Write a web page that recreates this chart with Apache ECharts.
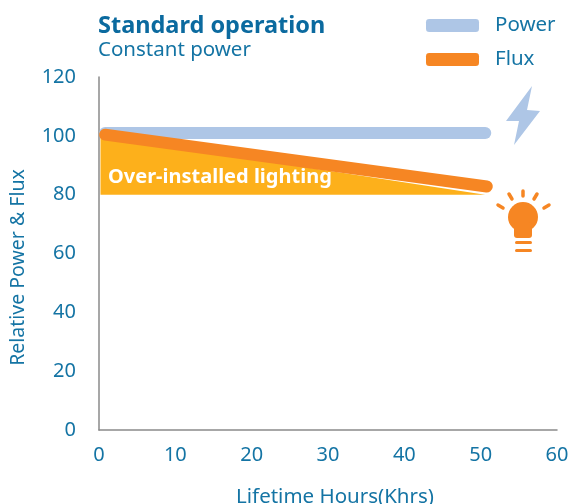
<!DOCTYPE html>
<html>
<head>
<meta charset="utf-8">
<style>html,body{margin:0;padding:0;background:#fff}#chart{width:571px;height:504px}</style>
<script src="https://cdn.jsdelivr.net/npm/echarts@6/dist/echarts.min.js"></script>
</head>
<body>
<div id="chart"></div>
<script>
var powerData = [[0.8, 101], [50.6, 101]];
var fluxData = [[0.8, 100.4], [50.8, 82.8]];
var overData = [[0.2, 100], [50.6, 80]];
var overBase = 80;
var blue = '#1474a4', orange = '#f68623', light = '#aec6e6';

var chart = echarts.init(document.getElementById('chart'));
var font = '"Noto Sans"';

function ray(x1, y1, x2, y2){
	return {type: 'line', shape: {x1: x1, y1: y1, x2: x2, y2: y2},
		style: {stroke: orange, lineWidth: 3.5, lineCap: 'round'}};
}

chart.setOption({
	animation: false,
	textStyle: {fontFamily: font},
	title: {
		text: 'Standard operation',
		subtext: 'Constant power',
		left: 98, top: 14, padding: 0, itemGap: 2,
		textStyle: {fontFamily: font, fontSize: 23.5, fontWeight: 'bold', color: '#0b6a9f'},
		subtextStyle: {fontFamily: font, fontSize: 20.5, color: blue}
	},
	legend: {
		orient: 'vertical',
		left: 426, top: 15, padding: 0,
		itemWidth: 53, itemHeight: 13, itemGap: 13,
		icon: 'roundRect',
		data: ['Power', 'Flux'],
		textStyle: {fontFamily: font, fontSize: 20.5, color: blue, padding: [0, 0, 8, 11]}
	},
	grid: {left: 99, right: 14, top: 77, bottom: 74, outerBoundsMode: 'none'},
	xAxis: {
		type: 'value', min: 0, max: 60, interval: 10,
		name: 'Lifetime Hours(Khrs)',
		nameLocation: 'middle', nameGap: 57,
		nameTextStyle: {fontSize: 20.5, color: blue, padding: [0, 0, 0, 14]},
		axisLine: {show: true, lineStyle: {color: '#8a8a8a', width: 1.5}},
		axisTick: {show: false},
		splitLine: {show: false},
		axisLabel: {fontSize: 20, color: blue, margin: 15}
	},
	yAxis: {
		type: 'value', min: 0, max: 120, interval: 20,
		name: 'Relative Power & Flux',
		nameLocation: 'middle', nameGap: 71,
		nameTextStyle: {fontSize: 19.5, color: blue, padding: [0, 28, 0, 0]},
		axisLine: {show: true, lineStyle: {color: '#8a8a8a', width: 1.5}},
		axisTick: {show: false},
		splitLine: {show: false},
		axisLabel: {fontSize: 20, color: blue, margin: 23, padding: [5, 0, 0, 0]}
	},
	series: [
		{name: 'Over-installed', type: 'line', data: overData, showSymbol: false,
			lineStyle: {width: 0}, areaStyle: {color: '#fdb01b', opacity: 1, origin: overBase}, silent: true},
		{name: 'Power', type: 'line', data: powerData, showSymbol: false, clip: false,
			itemStyle: {color: light},
			lineStyle: {color: light, width: 12, cap: 'round'}},
		{name: 'Flux', type: 'line', data: fluxData, showSymbol: false, clip: false,
			itemStyle: {color: orange},
			lineStyle: {color: orange, width: 12, cap: 'round'}}
	],
	graphic: [
		{type: 'text', left: 108, top: 167, z: 10,
			style: {text: 'Over-installed lighting', font: 'bold 20px "Noto Sans"', fill: '#fff'}},
		{type: 'polygon', shape: {points: [[532, 86], [527, 110], [540, 111], [514, 145], [519, 121], [506, 121]]},
			style: {fill: light}},
		{type: 'group', children: [
			{type: 'circle', shape: {cx: 523, cy: 217, r: 15}, style: {fill: orange}},
			{type: 'rect', shape: {x: 514, y: 222, width: 18, height: 16, r: 3}, style: {fill: orange}},
			{type: 'rect', shape: {x: 515, y: 241, width: 17, height: 3, r: 1.5}, style: {fill: orange}},
			{type: 'rect', shape: {x: 515, y: 249, width: 17, height: 3, r: 1.5}, style: {fill: orange}},
			ray(523, 191, 523, 196),
			ray(509, 194, 512, 199),
			ray(537, 194, 534, 199),
			ray(498, 205, 503, 208),
			ray(549, 205, 544, 208)
		]}
	]
});
</script>
</body>
</html>
